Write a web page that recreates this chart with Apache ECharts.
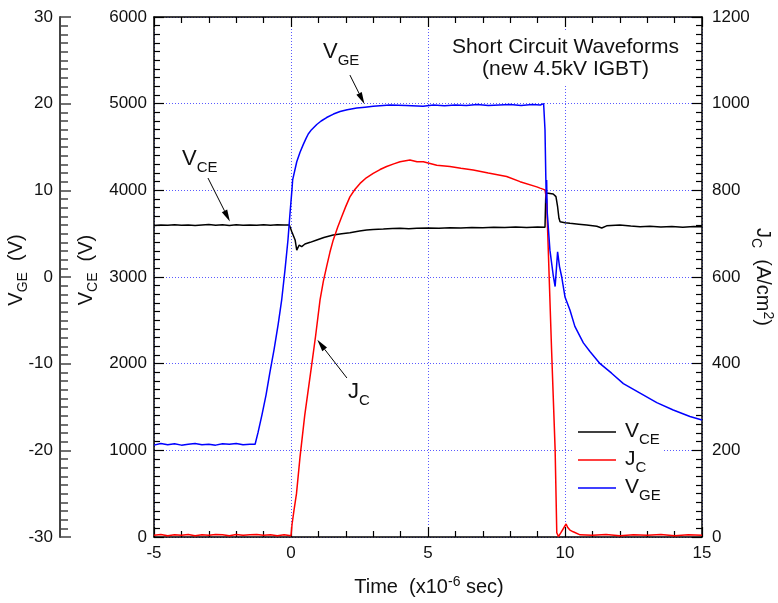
<!DOCTYPE html>
<html>
<head>
<meta charset="utf-8">
<script src="https://cdn.jsdelivr.net/npm/echarts@6/dist/echarts.min.js"></script>
<style>
  html, body { margin: 0; padding: 0; background: #fff; }
  #chart { width: 778px; height: 603px; }
</style>
</head>
<body>
<div id="chart"></div>
<script>
// ---- Measured waveforms (time in microseconds) ----
// Collector-emitter voltage V_CE (V)
const vceTime = [-5, -4.75, -4.5, -4.25, -4, -3.75, -3.5, -3.25, -3, -2.75, -2.5, -2.25, -2, -1.75, -1.5, -1.25, -1, -0.75, -0.5, -0.25, -0.06,
  0.03, 0.15, 0.21, 0.3, 0.39, 0.51, 0.7, 0.94, 1.2, 1.54, 1.85, 2.15, 2.5, 2.76, 3.0, 3.37, 3.7, 3.98, 4.3, 4.59,
  5.0, 5.4, 5.8, 6.2, 6.6, 7.0, 7.4, 7.8, 8.2, 8.6, 9.0, 9.27, 9.30, 9.39, 9.57, 9.67, 9.73, 9.78, 9.82, 9.88,
  10.0, 10.18, 10.5, 10.79, 11.16, 11.34, 11.52, 12.0, 12.4, 12.74, 13.1, 13.5, 13.9, 14.3, 14.7, 15];
const vceVolts = [3594, 3600, 3597, 3604, 3596, 3601, 3594, 3600, 3605, 3597, 3602, 3595, 3603, 3598, 3601, 3596, 3604, 3597, 3602, 3599, 3600,
  3523, 3427, 3311, 3369, 3350, 3381, 3400, 3427, 3455, 3485, 3500, 3511, 3530, 3542, 3548, 3554, 3560, 3562, 3558, 3562,
  3566, 3562, 3569, 3565, 3572, 3568, 3575, 3570, 3576, 3572, 3578, 3575, 3966, 3966, 3958, 3927, 3811, 3677, 3638, 3658,
  3627, 3619, 3610, 3600, 3585, 3565, 3590, 3600, 3588, 3580, 3585, 3578, 3583, 3575, 3582, 3580];

// Collector current density J_C (A/cm^2)
const jcTime = [-5, -4.75, -4.5, -4.25, -4, -3.75, -3.5, -3.25, -3, -2.75, -2.5, -2.25, -2, -1.75, -1.5, -1.25, -1, -0.75, -0.5, -0.25,
  0, 0.04, 0.11, 0.2, 0.33, 0.5, 0.75, 0.9, 1.06, 1.18, 1.3, 1.42, 1.54, 1.7, 1.85, 2.0, 2.15, 2.33, 2.52, 2.75, 3.0, 3.25, 3.49, 3.75, 3.98, 4.34, 4.6, 4.83,
  5.32, 5.8, 6.2, 6.65, 7.2, 7.87, 8.36, 8.97, 9.09, 9.27, 9.33, 9.39, 9.51, 9.64, 9.70, 9.76, 9.84, 10.04, 10.1, 10.18,
  10.3, 10.55, 11, 11.5, 12, 12.5, 13, 13.5, 14, 14.5, 15];
const jcDensity = [4, 6, 3, 5, 4, 6, 3, 5, 4, 6, 5, 3, 6, 4, 5, 6, 4, 5, 3, 5,
  3, 30, 62, 100, 185, 280, 395, 465, 547, 590, 624, 657, 685, 714, 739, 763, 785, 802, 816, 829, 839, 848, 855, 861, 866, 870, 866, 866,
  858, 855, 851, 847, 840, 832, 820, 808, 805, 801, 778, 662, 432, 201, 10, 1, 9, 30, 22, 16,
  12, 5, 4, 6, 3, 5, 4, 6, 3, 5, 4];

// Gate-emitter voltage V_GE (V)
const vgeTime = [-5, -4.75, -4.5, -4.25, -4, -3.75, -3.5, -3.25, -3, -2.75, -2.5, -2.25, -2, -1.75, -1.5,
  -1.31, -1.2, -1.06, -0.91, -0.77, -0.62, -0.47, -0.34, -0.22, -0.11, -0.04, 0.02, 0.04, 0.06, 0.11,
  0.21, 0.33, 0.45, 0.55, 0.63, 0.75, 0.94, 1.1, 1.3, 1.55, 1.79, 2.05, 2.4, 2.7, 3.0, 3.61,
  4.2, 4.82, 5.2, 5.6, 6.0, 6.4, 6.8, 7.2, 7.6, 8.0, 8.4, 8.8, 9.1, 9.22, 9.25,
  9.27, 9.30, 9.32, 9.33, 9.35, 9.45, 9.57, 9.64, 9.73, 9.8, 9.88, 10.0, 10.18, 10.36, 10.67, 10.91, 11.28, 11.7, 12.13, 12.74,
  13.35, 13.95, 14.56, 15];
const vgeVolts = [-19.4, -19.2, -19.35, -19.25, -19.4, -19.3, -19.2, -19.35, -19.3, -19.4, -19.25, -19.3, -19.2, -19.35, -19.3,
  -19.3, -17.9, -15.9, -13.6, -11.0, -8.4, -5.5, -2.65, 0.8, 4.3, 7.2, 9.5, 10.3, 11.2, 11.0,
  13.3, 14.4, 15.3, 16.0, 16.5, 17.0, 17.6, 18.0, 18.4, 18.8, 19.1, 19.3, 19.5, 19.6, 19.7, 19.85,
  19.8, 19.7, 19.85, 19.75, 19.85, 19.8, 19.9, 19.8, 19.85, 19.9, 19.8, 19.9, 19.85, 20.0, 19.9,
  17.0, 11.5, 8.5, 11.2, 7.5, 3.1, 0.2, -1.1, 2.9, 1.2, 0.0, -2.3, -3.8, -5.7, -7.6, -8.6, -10.0, -11.1, -12.3, -13.4,
  -14.5, -15.35, -16.1, -16.5];

// Axis ranges and tick spacing
const timeRange = [-5, 15], timeStep = 5;
const vceRange = [0, 6000], vceStep = 1000;
const jcRange = [0, 1200], jcStep = 200;
const vgeRange = [-30, 30], vgeStep = 10;

// Annotation arrows: [tail, tip] in data units of the series they point at
const vgeArrow = [[2.15, 23.3], [2.68, 19.95]];
const vceArrow = [[-3.03, 4142], [-2.23, 3640]];
const jcArrow = [[2.04, 367], [0.96, 455]];

// ---- Drawing ----
const FONT = "'Liberation Sans', Arial, Helvetica, sans-serif";
const INK = '#111';
const GRID_LINE = { show: true, lineStyle: { color: '#5a5aff', width: 1, type: [1, 2] } };
const plain = function (v) { return String(v); };

function pairs(xs, ys) { return xs.map((x, i) => [x, ys[i]]); }

function tickAxis(extra) {
  return Object.assign({
    type: 'value',
    axisLine: { show: true, onZero: false, lineStyle: { color: '#000', width: 1.5 } },
    axisTick: { show: true, inside: true, length: 10, lineStyle: { color: '#000', width: 1.2 } },
    minorTick: { show: true, length: 6, lineStyle: { color: '#000', width: 1.2 } },
    axisLabel: { color: INK, fontSize: 17, fontFamily: FONT, formatter: plain },
    splitLine: { show: false }
  }, extra);
}
function tickLabel(margin) {
  return { color: INK, fontSize: 17, fontFamily: FONT, margin: margin, formatter: plain };
}

const chart = echarts.init(document.getElementById('chart'), null, { renderer: 'canvas' });

chart.setOption({
  animation: false,
  backgroundColor: '#fff',
  grid: { left: 154, right: 76, top: 17, bottom: 66, containLabel: false },
  xAxis: [
    tickAxis({ min: timeRange[0], max: timeRange[1], interval: timeStep, position: 'bottom',
      minorTick: { show: true, splitNumber: 5, length: 6, lineStyle: { color: '#000', width: 1.2 } },
      axisLabel: tickLabel(8),
      splitLine: GRID_LINE }),
    tickAxis({ min: timeRange[0], max: timeRange[1], interval: timeStep, position: 'top',
      minorTick: { show: true, splitNumber: 5, length: 6, lineStyle: { color: '#000', width: 1.2 } },
      axisLabel: { show: false } })
  ],
  yAxis: [
    tickAxis({ min: vceRange[0], max: vceRange[1], interval: vceStep, position: 'left',
      minorTick: { show: true, splitNumber: 10, length: 6, lineStyle: { color: '#000', width: 1.2 } },
      axisLabel: tickLabel(7),
      splitLine: GRID_LINE }),
    tickAxis({ min: jcRange[0], max: jcRange[1], interval: jcStep, position: 'right',
      minorTick: { show: true, splitNumber: 10, length: 6, lineStyle: { color: '#000', width: 1.2 } },
      axisLabel: tickLabel(10) }),
    tickAxis({ min: vgeRange[0], max: vgeRange[1], interval: vgeStep, position: 'left', offset: 94,
      axisLine: { show: true, onZero: false, lineStyle: { color: '#444', width: 2 } },
      axisTick: { show: true, inside: true, length: 11, lineStyle: { color: '#444', width: 1.5 } },
      minorTick: { show: true, splitNumber: 10, length: 8, lineStyle: { color: '#444', width: 1.5 } },
      axisLabel: tickLabel(7) })
  ],
  series: [
    { name: 'VCE', type: 'line', xAxisIndex: 0, yAxisIndex: 0, data: pairs(vceTime, vceVolts),
      showSymbol: false, symbol: 'none', silent: true, z: 3,
      lineStyle: { color: '#000', width: 1.5 } },
    { name: 'JC', type: 'line', xAxisIndex: 0, yAxisIndex: 1, data: pairs(jcTime, jcDensity),
      showSymbol: false, symbol: 'none', silent: true, z: 4,
      lineStyle: { color: '#ff0000', width: 1.5 } },
    { name: 'VGE', type: 'line', xAxisIndex: 0, yAxisIndex: 2, data: pairs(vgeTime, vgeVolts),
      showSymbol: false, symbol: 'none', silent: true, z: 5,
      lineStyle: { color: '#0000ff', width: 1.5 } }
  ]
});

// Rich-text styles for labels with subscripts / superscripts
function richSet(main, sub, subDrop, supRise) {
  return {
    m: { fontSize: main, fontFamily: FONT, fill: INK },
    s: { fontSize: sub, fontFamily: FONT, fill: INK, padding: [subDrop * 2, 0, 0, 0] },
    p: { fontSize: sub, fontFamily: FONT, fill: INK, padding: [0, 0, supRise * 2, 0] }
  };
}
function label(x, y, text, rich, rotation, align) {
  return {
    type: 'text', x: x, y: y, z: 60, silent: true, rotation: rotation || 0,
    style: { text: text, rich: rich, align: align || 'left', verticalAlign: 'middle' }
  };
}
function arrow(axisIdx, spec) {
  const a = chart.convertToPixel({ xAxisIndex: 0, yAxisIndex: axisIdx }, spec[0]);
  const b = chart.convertToPixel({ xAxisIndex: 0, yAxisIndex: axisIdx }, spec[1]);
  const dx = b[0] - a[0], dy = b[1] - a[1], L = Math.hypot(dx, dy);
  const ux = dx / L, uy = dy / L, hl = 12, hw = 3;
  const bx = b[0] - ux * hl, by = b[1] - uy * hl;
  return [
    { type: 'line', z: 55, silent: true, shape: { x1: a[0], y1: a[1], x2: bx, y2: by },
      style: { stroke: '#000', lineWidth: 1 } },
    { type: 'polygon', z: 55, silent: true,
      shape: { points: [[b[0], b[1]], [bx - uy * hw, by + ux * hw], [bx + uy * hw, by - ux * hw]] },
      style: { fill: '#000' } }
  ];
}

const axisRich = richSet(20, 14, 7, 5);
const noteRich = richSet(22, 15, 8.5, 0);
const legRich = richSet(21, 15, 8.5, 0);

const legendRows = [
  { color: '#000000', text: '{m|V}{s|CE}', y: 432 },
  { color: '#ff0000', text: '{m|J}{s|C}', y: 460 },
  { color: '#0000ff', text: '{m|V}{s|GE}', y: 488 }
];

const graphics = [
  // boxes that mask the grid behind the title and legend
  { type: 'rect', z: 40, silent: true, shape: { x: 448, y: 30, width: 236, height: 54 }, style: { fill: '#fff' } },
  { type: 'rect', z: 40, silent: true, shape: { x: 574, y: 413, width: 88, height: 92 }, style: { fill: '#fff' } },
  // title
  { type: 'text', z: 60, silent: true, x: 565.5, y: 36.7,
    style: { text: 'Short Circuit Waveforms\n(new 4.5kV IGBT)', fontSize: 21, fontFamily: FONT, fill: INK,
      lineHeight: 22, align: 'center', verticalAlign: 'top' } },
  // axis titles
  label(16.1, 270, '{m|V}{s|GE}{m|  (V)}', axisRich, Math.PI / 2, 'center'),
  label(86.1, 270, '{m|V}{s|CE}{m|  (V)}', axisRich, Math.PI / 2, 'center'),
  label(763, 277, '{m|J}{s|C}{m|  (A/cm}{p|2}{m|)}', axisRich, -Math.PI / 2, 'center'),
  label(429, 587, '{m|Time  (x10}{p|-6}{m| sec)}', axisRich, 0, 'center'),
  // curve annotations
  label(323, 52.4, '{m|V}{s|GE}', noteRich),
  label(182, 159.4, '{m|V}{s|CE}', noteRich),
  label(348, 392.4, '{m|J}{s|C}', noteRich)
];

legendRows.forEach(function (r) {
  graphics.push({ type: 'line', z: 60, silent: true, shape: { x1: 578, y1: r.y, x2: 616, y2: r.y },
    style: { stroke: r.color, lineWidth: 1.5 } });
  graphics.push(label(625, r.y - 1, r.text, legRich));
});

Array.prototype.push.apply(graphics, arrow(2, vgeArrow));
Array.prototype.push.apply(graphics, arrow(0, vceArrow));
Array.prototype.push.apply(graphics, arrow(1, jcArrow));

chart.setOption({ graphic: graphics });
</script>
</body>
</html>
